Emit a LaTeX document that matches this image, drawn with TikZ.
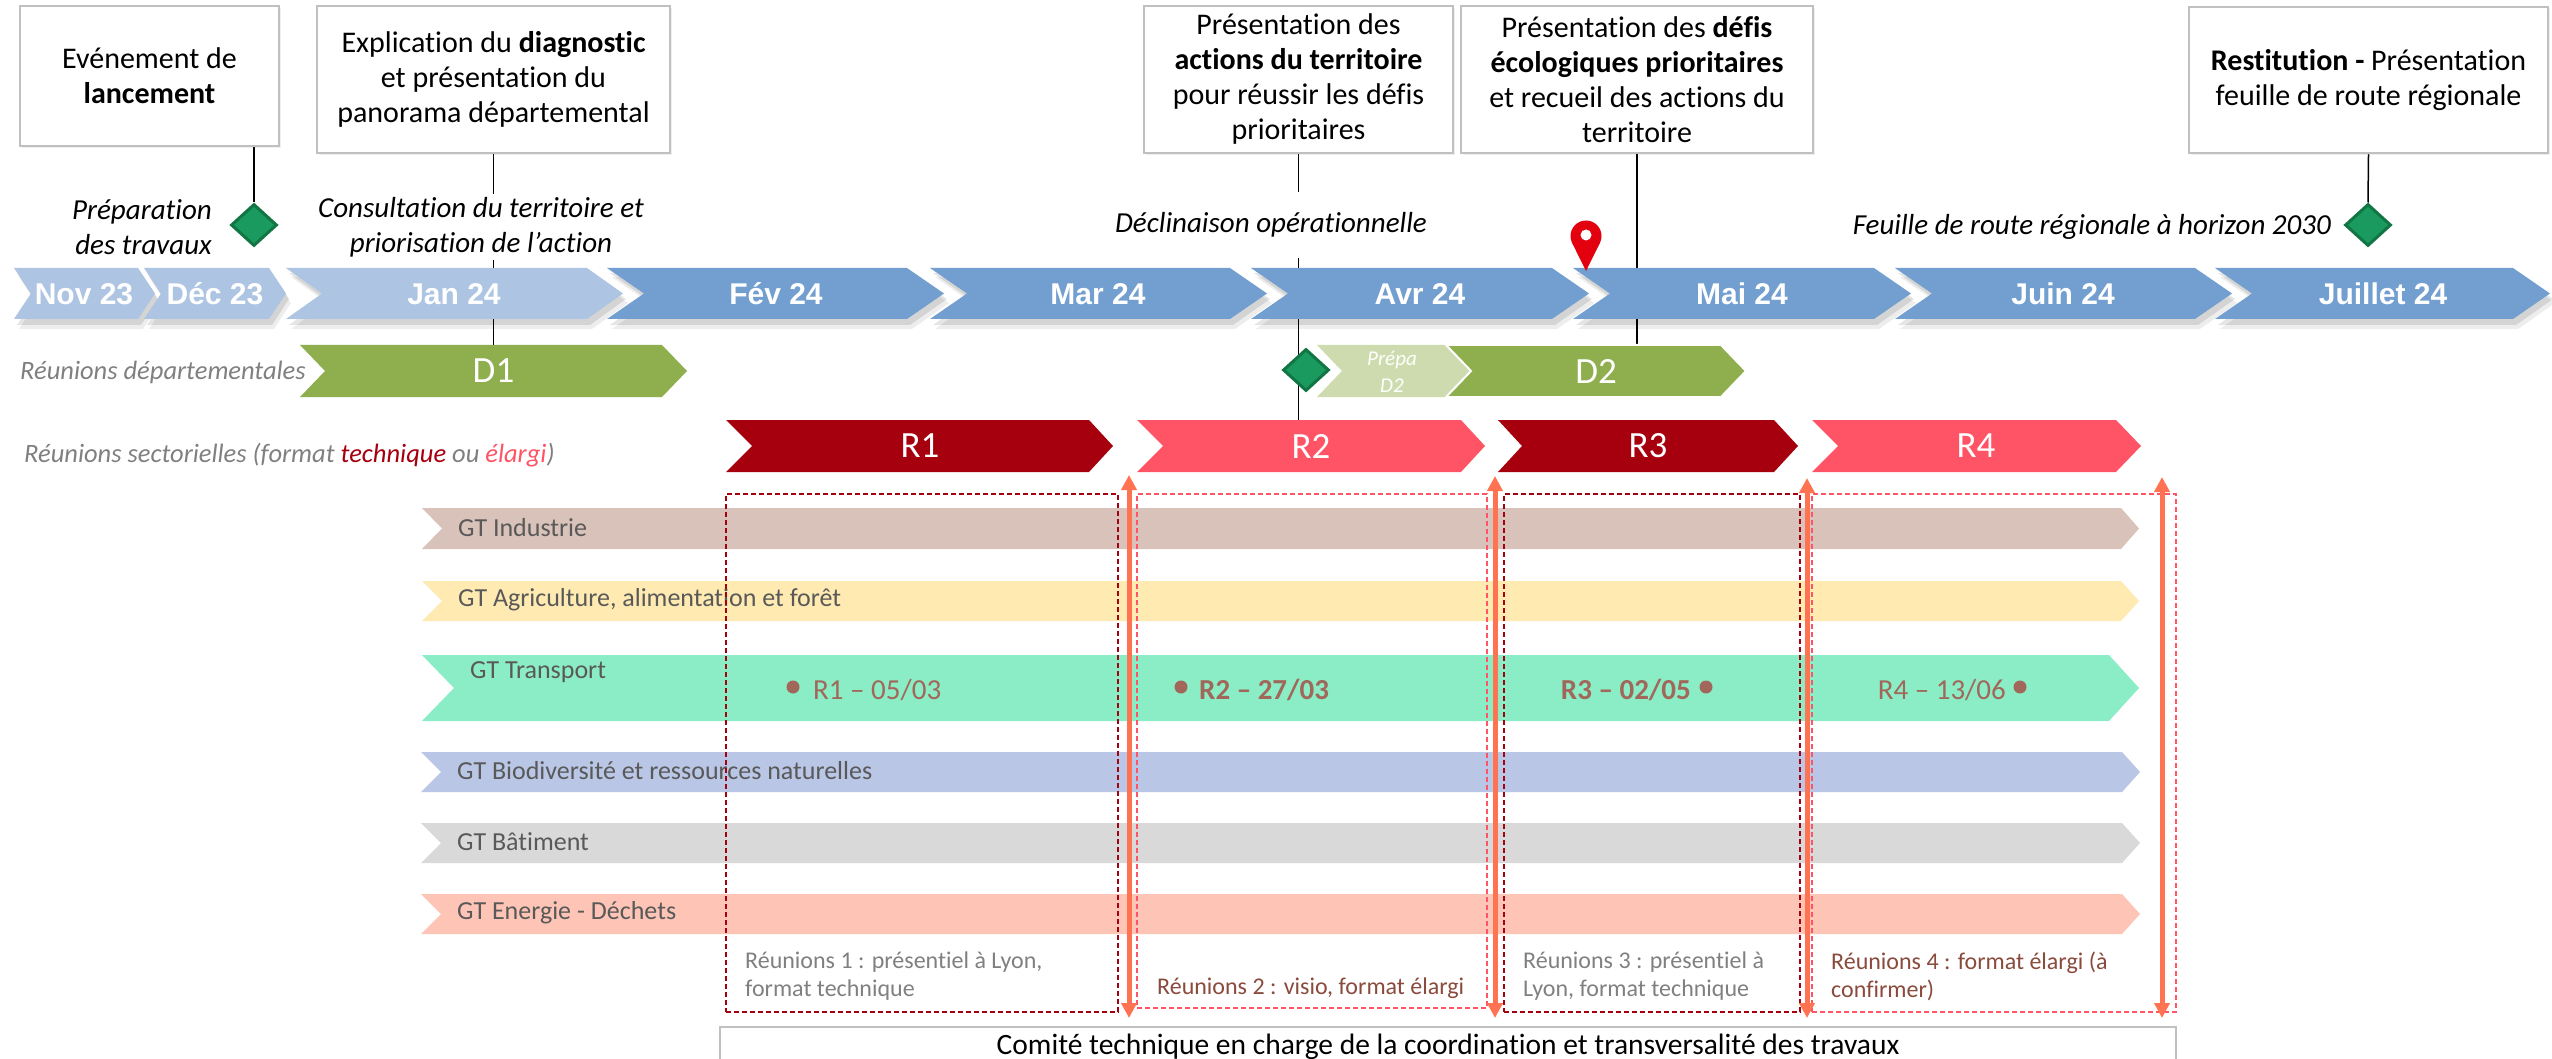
\documentclass[tikz,border=0pt]{standalone}
\usepackage{fontspec}
\setmainfont{Carlito}[Ligatures=NoCommon]
\newfontfamily\monthfont{Liberation Sans}
\usetikzlibrary{shapes.geometric,arrows.meta,shadows}
\definecolor{lblue}{HTML}{ADC5E3}
\definecolor{mblue}{HTML}{729FCF}
\definecolor{dgreen}{HTML}{8FAF4F}
\definecolor{pgreen}{HTML}{CEDBAE}
\definecolor{dmfill}{HTML}{1A9A5E}
\definecolor{dmline}{HTML}{127544}
\definecolor{rdark}{HTML}{A6000F}
\definecolor{rlight}{HTML}{FF5465}
\definecolor{gtind}{HTML}{D9C2BA}
\definecolor{gtagr}{HTML}{FFEAB2}
\definecolor{gttra}{HTML}{8BEDC5}
\definecolor{gtbio}{HTML}{B9C6E5}
\definecolor{gtbat}{HTML}{D9D9D9}
\definecolor{gtene}{HTML}{FEC4B5}
\definecolor{gttext}{HTML}{595959}
\definecolor{mkcol}{HTML}{A0675A}
\definecolor{arrorange}{HTML}{FF7352}
\definecolor{lgray}{HTML}{808080}
\definecolor{brownt}{HTML}{8A4B3D}
\definecolor{boxgray}{HTML}{C0C0C0}
\definecolor{pinred}{HTML}{E3000F}
\newcommand\fsz[2]{\fontsize{#1}{#2}\selectfont}
% #1 colour, #2 left, #3 tip, #4 top, #5 bottom, #6 notch depth, #7 tip depth, #8 extra
\newcommand\chev[8]{%
  \fill[#1,#8] (#2,#4) -- ({#3-#7},#4) -- (#3,{(#4+#5)/2}) -- ({#3-#7},#5) -- (#2,#5) -- ({#2+#6},{(#4+#5)/2}) -- cycle;}
\pgfdeclarelayer{back}
\pgfdeclarelayer{bg}
\pgfsetlayers{back,bg,main}
\begin{document}
\begin{tikzpicture}[x=1pt,y=-1pt,
  topbox/.style={draw=boxgray, line width=2.5pt, fill=white, align=center, font=\fsz{30}{35}, inner sep=0,
    drop shadow={opacity=0.12, shadow xshift=2pt, shadow yshift=-2pt}},
  monthlbl/.style={font=\monthfont\bfseries\fsz{30}{34}, text=white, inner sep=0},
  milestone/.style={diamond, draw=dmline, fill=dmfill, line width=3pt, minimum width=46pt, minimum height=42pt, inner sep=0},
  phase/.style={font=\itshape\fsz{29}{35}, inner sep=0},
  rowlbl/.style={font=\itshape\fsz{26.5}{30}, text=lgray, inner sep=0, anchor=west},
  chevlbl/.style={font=\fsz{37}{40}, text=white, minimum height=52pt, inner sep=0},
  gtlbl/.style={font=\fsz{26}{30}, text=gttext, inner sep=0, anchor=west},
  mktext/.style={font=\fsz{29}{32}, text=mkcol, inner sep=0},
  mkdot/.style={circle, fill=mkcol, minimum size=13pt, inner sep=0},
  dbox/.style={line width=2pt, dash pattern=on 5pt off 3pt, inner sep=0},
  notelbl/.style={font=\fsz{24}{28}, inner sep=0, anchor=west, align=left},
  orarrow/.style={draw=arrorange, line width=5pt, arrows={Triangle[length=15pt,width=15pt]-Triangle[length=15pt,width=15pt]}},
  stem/.style={draw=black, line width=1.5pt}]
\begin{pgfonlayer}{back}
\fill[white] (0,0) rectangle (2552,1059);
\end{pgfonlayer}
\useasboundingbox (0,0) rectangle (2552,1059);

% ---------- top boxes ----------
\node[topbox, minimum width=259pt, minimum height=140pt] (b1) at (149.5,76) {Evénement de\\\textbf{lancement}};
\node[topbox, minimum width=353pt, minimum height=147pt] (b2) at (493.5,79.5) {Explication du \textbf{diagnostic}\\et présentation du\\panorama départemental};
\node[topbox, minimum width=309pt, minimum height=147pt] (b3) at (1298.5,79.5) {Présentation des\\\textbf{actions du territoire}\\pour réussir les défis\\prioritaires};
\node[topbox, minimum width=352pt, minimum height=147pt] (b4) at (1637,79.5) {Présentation des \textbf{défis}\\\textbf{écologiques prioritaires}\\et recueil des actions du\\territoire};
\node[topbox, minimum width=359pt, minimum height=146pt] (b5) at (2368.5,80) {\textbf{Restitution -} Présentation\\feuille de route régionale};

% ---------- phase labels ----------
\node[phase, anchor=east, align=right] (ph1) at (212,227) {Préparation\\des travaux};
\node[phase, align=center, fill=white, inner sep=3pt] (ph2) at (481,227) {Consultation du territoire et\\priorisation de l’action};
\node[phase, fill=white, minimum height=66pt] (ph3) at (1271,225) {Déclinaison opérationnelle};
\node[phase, anchor=east] (ph4) at (2331,227) {Feuille de route régionale à horizon 2030};

\node[milestone] (dia1) at (254,225) {};
\node[milestone] (dia5) at (2368,225) {};

% ---------- timeline ----------
\foreach \l/\t/\d in {14/155/17,144/286/17,286/623/36,607/944/37,930/1267/37,1251/1589/37,1573/1911/37,1895/2232/37,2215/2550/37}{
  \chev{black}{\l+3}{\t+3}{273}{325}{\d}{\d}{opacity=0.10}
  \chev{black}{\l+5}{\t+5}{277}{329}{\d}{\d}{opacity=0.07}
}
\chev{lblue}{14}{155}{268}{319}{17}{17}{}
\chev{lblue}{144}{286}{268}{319}{17}{17}{}
\chev{lblue}{286}{623}{268}{319}{36}{36}{}
\chev{mblue}{607}{944}{268}{319}{37}{37}{}
\chev{mblue}{930}{1267}{268}{319}{37}{37}{}
\chev{mblue}{1251}{1589}{268}{319}{37}{37}{}
\chev{mblue}{1573}{1911}{268}{319}{37}{37}{}
\chev{mblue}{1895}{2232}{268}{319}{37}{37}{}
\chev{mblue}{2215}{2550}{268}{319}{37}{37}{}
\node[monthlbl] (nov) at (84,294) {Nov 23};
\node[monthlbl] (dec) at (215,294) {Déc 23};
\node[monthlbl] (jan) at (454,294) {Jan 24};
\node[monthlbl] (fev) at (776,294) {Fév 24};
\node[monthlbl] (mar) at (1098,294) {Mar 24};
\node[monthlbl] (avr) at (1420,294) {Avr 24};
\node[monthlbl] (mai) at (1742,294) {Mai 24};
\node[monthlbl] (juin) at (2063,294) {Juin 24};
\node[monthlbl] (juil) at (2383,294) {Juillet 24};

% pin
\fill[pinred] (1586,271) -- (1572.1,242.9) -- (1599.9,242.9) -- cycle;
\fill[pinred] (1586,236) circle[radius=15.5];
\fill[white] (1586,235) circle[radius=5.5];

% ---------- departmental row ----------
\node[rowlbl] (deplbl) at (20,372) {Réunions départementales};
\chev{dgreen}{300}{687}{345}{397}{25}{25}{}
\chev{pgreen}{1317}{1471}{345}{397}{25}{25}{}
\chev{dgreen}{1446}{1746}{345}{397}{25}{25}{draw=white, line width=2pt}
\node[chevlbl] (d1) at (493.5,371) {D1};
\node[chevlbl] (d2) at (1596,371) {D2};
\node[font=\itshape\fsz{21}{27}, text=white, align=center, inner sep=0] (prepa) at (1392,372) {Prépa\\D2};
\node[milestone] (dia2) at (1306,370) {};

% ---------- sectoral row ----------
\node[rowlbl] (seclbl) at (24,455) {Réunions sectorielles (format {\color{rdark}technique} ou {\color{rlight}élargi})};
\chev{rdark}{726}{1113}{420}{472}{26}{24}{}
\chev{rlight}{1137}{1485}{420}{472}{26}{24}{}
\chev{rdark}{1498}{1798}{420}{472}{24}{24}{}
\chev{rlight}{1812}{2141}{420}{472}{26}{25}{}
\node[chevlbl] (r1) at (920,446) {R1};
\node[chevlbl] (r2) at (1311,446) {R2};
\node[chevlbl] (r3) at (1648,446) {R3};
\node[chevlbl] (r4) at (1976,446) {R4};

% ---------- GT bands ----------
\chev{gtind}{422}{2139}{508}{549}{20}{18}{}
\chev{gtagr}{422}{2139}{581}{621}{20}{18}{}
\chev{gttra}{422}{2139}{655}{721}{32}{30}{}
\chev{gtbio}{421}{2140}{752}{792}{20}{18}{}
\chev{gtbat}{421}{2140}{823}{863}{20}{18}{}
\chev{gtene}{421}{2140}{894}{934}{20}{18}{}
\node[gtlbl] (gt1) at (458,528) {GT Industrie};
\node[gtlbl] (gt2) at (458,600) {GT Agriculture, alimentation et forêt};
\node[gtlbl] (gt3) at (470,672) {GT Transport};
\node[gtlbl] (gt4) at (457,771) {GT Biodiversité et ressources naturelles};
\node[gtlbl] (gt5) at (457,842) {GT Bâtiment};
\node[gtlbl] (gt6) at (457,913) {GT Energie - Déchets};

% meetings
\node[mkdot] (m1d) at (793,687) {};
\node[mktext, anchor=west] (m1) at (813,690) {R1 – 05/03};
\node[mkdot] (m2d) at (1181,687) {};
\node[mktext, anchor=west] (m2) at (1199,690) {\textbf{R2 – 27/03}};
\node[mktext, anchor=east] (m3) at (1691,690) {\textbf{R3 – 02/05}};
\node[mkdot] (m3d) at (1706,687) {};
\node[mktext, anchor=east] (m4) at (2006,690) {R4 – 13/06};
\node[mkdot] (m4d) at (2020,687) {};

% ---------- dashed boxes ----------
\node[dbox, draw=rdark, minimum width=392pt, minimum height=518pt] (g1) at (922,753) {};
\node[dbox, draw=rlight, minimum width=350pt, minimum height=514pt] (g2) at (1312,751) {};
\node[dbox, draw=rdark, minimum width=296pt, minimum height=518pt] (g3) at (1652,753) {};
\node[dbox, draw=rlight, minimum width=364pt, minimum height=518pt] (g4) at (1994,753) {};
\node[notelbl, text=lgray] (n1) at (745,976) {Réunions 1 : présentiel à Lyon,\\format technique};
\node[notelbl, text=brownt] (n2) at (1157,988) {Réunions 2 : visio, format élargi};
\node[notelbl, text=lgray] (n3) at (1523,976) {Réunions 3 : présentiel à\\Lyon, format technique};
\node[notelbl, text=brownt] (n4) at (1831,976) {Réunions 4 : format élargi (à\\confirmer)};

% ---------- orange arrows ----------
\coordinate (a1t) at (1129,475); \coordinate (a1b) at (1129,1018);
\coordinate (a2t) at (1495,476); \coordinate (a2b) at (1495,1018);
\coordinate (a3t) at (1807,478); \coordinate (a3b) at (1807,1018);
\coordinate (a4t) at (2162,477); \coordinate (a4b) at (2162,1018);
\draw[orarrow] (a1t) -- (a1b);
\draw[orarrow] (a2t) -- (a2b);
\draw[orarrow] (a3t) -- (a3b);
\draw[orarrow] (a4t) -- (a4b);

% ---------- bottom box ----------
\node[draw=boxgray, line width=2.5pt, fill=white, minimum width=1456pt, minimum height=40pt, font=\fsz{29.5}{34}, inner sep=0] (comite) at (1448,1047) {Comité technique en charge de la coordination et transversalité des travaux};

% ---------- stems ----------
\begin{pgfonlayer}{bg}
\draw[stem] (dia1 |- b1.south) -- (dia1.north);
\draw[stem] (b2.south) -- (d1.north);
\draw[stem] (b3.south) -- (b3.south |- r2.north);
\draw[stem] (b4.south) -- (b4.south |- d2.north);
\draw[stem] (b5.south) -- (dia5.north);
\end{pgfonlayer}
\end{tikzpicture}
\end{document}
